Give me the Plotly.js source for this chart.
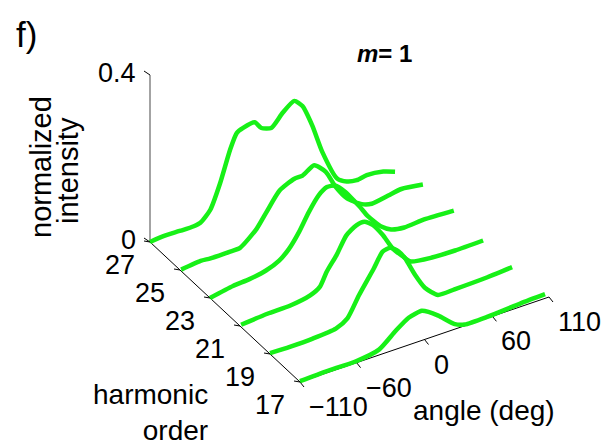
<!DOCTYPE html>
<html><head><meta charset="utf-8">
<script src="https://cdn.plot.ly/plotly-3.0.1.min.js"></script>
<style>html,body{margin:0;padding:0;background:#fff}#chart{width:609px;height:442px}</style>
</head><body><div id="chart"></div>
<script>
// harmonic orders (back to front)
const harmonics = [27, 25, 23, 21, 19, 17];

// angle (deg) samples and normalized intensity per harmonic
const angle27 = [-110, -97.5, -83, -71.3, -65.5, -56.7, -48, -39.3, -33.4, -27.7, -17.5, -11.6, -2.9, 7.2, 17.5, 24.7, 33.4, 42.2, 55.3, 63.8, 72.6, 81.5, 96.1, 106.5];
const int27   = [0, 0.003, 0.002, 0.002, 0.005, 0.028, 0.084, 0.155, 0.19, 0.197, 0.201, 0.182, 0.174, 0.201, 0.22, 0.201, 0.146, 0.075, -0.001, -0.016, -0.021, -0.017, -0.022, -0.032];

const angle25 = [-109, -91.8, -83.1, -65.7, -56.9, -42.3, -33.6, -22, -8.9, -1.7, 8.6, 18.8, 27.5, 37.6, 50.7, 59.4, 74, 85.6, 104.6];
const int25   = [0, 0.005, 0.003, 0.003, 0.004, 0.036, 0.068, 0.109, 0.125, 0.126, 0.141, 0.116, 0.072, 0.035, 0.009, 0.002, 0.008, 0.013, 0.006];

const angle23 = [-110, -89.7, -75.1, -60.5, -48.9, -40.2, -31.4, -22.7, -14, -6.7, 0.6, 9.3, 18.1, 22.4, 29.7, 41.3, 50, 61.7, 79.2, 105.4];
const int23   = [0, 0.010, 0.013, 0.020, 0.033, 0.053, 0.085, 0.125, 0.157, 0.170, 0.167, 0.144, 0.112, 0.096, 0.066, 0.031, 0.016, 0.010, 0.013, 0.010];

const angle21 = [-109, -85.8, -65.5, -48, -39.3, -33.4, -24.7, -16, -7.2, 0, 7.2, 16, 24.7, 33.4, 40.8, 59.6, 80, 104.8];
const int21   = [0.002, 0.007, 0.008, 0.016, 0.029, 0.059, 0.091, 0.130, 0.146, 0.148, 0.134, 0.102, 0.062, 0.035, 0.015, 0.007, 0.005, 0.006];

const angle19 = [-110, -92.5, -72.2, -51.8, -41.6, -31.4, -18.3, -10.5, -3.8, 3.5, 9.3, 18.1, 26.8, 38.4, 53, 82.1, 103.9];
const int19   = [0.002, 0.001, 0.002, 0.007, 0.022, 0.068, 0.120, 0.153, 0.156, 0.141, 0.119, 0.071, 0.032, 0.004, 0.004, 0.006, 0.010];

const angle17 = [-110, -86.7, -60.5, -40.2, -25.6, -14, -2.4, 3.5, 12.2, 26.8, 35.5, 55.9, 85, 106.5];
const int17   = [0.002, 0.004, 0.004, 0.013, 0.044, 0.065, 0.071, 0.063, 0.046, 0.012, 0.003, 0.003, 0.008, 0.010];

// axis ranges and tick labels
const angleRange = [-110, 110];
const harmonicRange = [17, 27];
const intensityRange = [0, 0.4];
const angleTicks = [-110, -60, 0, 60, 110];
const angleTickText = ['\u2212110', '\u221260', '0', '60', '110'];
const harmonicTicks = [27, 25, 23, 21, 19, 17];
const intensityTicks = [0, 0.4];
const intensityTickText = ['0', '0.4'];

const angles = [angle27, angle25, angle23, angle21, angle19, angle17];
const ints = [int27, int25, int23, int21, int19, int17];

// ---- orthographic 3-D view (MATLAB-like), projected onto a 2-D Plotly plot in pixel units ----
const view = {
  origin: [150, 242],        // screen point of (angle min, harmonic max, intensity min)
  angleDir: [249, -85],      // screen vector spanning the full angle range
  harmonicDir: [150, 140],   // screen vector from harmonic max to harmonic min
  intensityDir: [0, -167]    // screen vector spanning the full intensity range
};
function project(a, h, z) {
  const ta = (a - angleRange[0]) / (angleRange[1] - angleRange[0]);
  const th = (harmonicRange[1] - h) / (harmonicRange[1] - harmonicRange[0]);
  const tz = (z - intensityRange[0]) / (intensityRange[1] - intensityRange[0]);
  return [
    view.origin[0] + ta * view.angleDir[0] + th * view.harmonicDir[0] + tz * view.intensityDir[0],
    view.origin[1] + ta * view.angleDir[1] + th * view.harmonicDir[1] + tz * view.intensityDir[1]
  ];
}
function projLine(pts) {
  const p = pts.map(q => project(q[0], q[1], q[2]));
  return {x: p.map(v => v[0]), y: p.map(v => v[1])};
}

const FONT = 'Liberation Sans, Arial, Helvetica, sans-serif';
const TICKSIZE = 27;
const traces = [];

// axis lines
const aMin = angleRange[0], aMax = angleRange[1], hMin = harmonicRange[0], hMax = harmonicRange[1];
const zMin = intensityRange[0], zMax = intensityRange[1];
const zLine = projLine([[aMin, hMax, zMin], [aMin, hMax, zMax]]);
traces.push({type: 'scatter', mode: 'lines', x: zLine.x, y: zLine.y, line: {color: '#666', width: 1.2}, hoverinfo: 'skip'});
const baseLines = projLine([[aMin, hMax, zMin], [aMin, hMin, zMin], [aMax, hMin, zMin]]);
traces.push({type: 'scatter', mode: 'lines', x: baseLines.x, y: baseLines.y, line: {color: '#000', width: 1}, hoverinfo: 'skip'});

// tick marks (short screen-space segments)
function tickMarks(points, d) {
  const xs = [], ys = [];
  points.forEach(p => { const s = project(p[0], p[1], p[2]); xs.push(s[0], s[0] + d[0], null); ys.push(s[1], s[1] + d[1], null); });
  return {type: 'scatter', mode: 'lines', x: xs, y: ys, line: {color: '#000', width: 1}, hoverinfo: 'skip'};
}
traces.push(tickMarks(intensityTicks.map(z => [aMin, hMax, z]), [-6, -4]));
traces.push(tickMarks(harmonicTicks.map(h => [aMin, h, zMin]), [-6, -1]));
traces.push(tickMarks(angleTicks.map(a => [a, hMin, zMin]), [4, 5]));

// data curves
harmonics.forEach((h, i) => {
  const c = projLine(angles[i].map((a, j) => [a, h, ints[i][j]]));
  traces.push({type: 'scatter', mode: 'lines', x: c.x, y: c.y, name: 'H' + h,
    line: {color: '#17f017', width: 4.5, shape: 'spline', smoothing: 0.6}, hoverinfo: 'skip'});
});

// tick labels as annotations in projected coordinates
const ann = [];
intensityTicks.forEach((z, i) => {
  const s = project(aMin, hMax, z);
  ann.push({x: s[0], y: s[1], xref: 'x', yref: 'y', text: intensityTickText[i], showarrow: false,
    xanchor: 'right', yanchor: 'middle', xshift: -12, yshift: 2, font: {family: FONT, size: TICKSIZE}});
});
harmonicTicks.forEach(h => {
  const s = project(aMin, h, zMin);
  ann.push({x: s[0], y: s[1], xref: 'x', yref: 'y', text: String(h), showarrow: false,
    xanchor: 'center', yanchor: 'middle', xshift: -30, yshift: -23, font: {family: FONT, size: TICKSIZE}});
});
angleTicks.forEach((a, i) => {
  const s = project(a, hMin, zMin);
  ann.push({x: s[0], y: s[1], xref: 'x', yref: 'y', text: angleTickText[i], showarrow: false,
    xanchor: 'left', yanchor: 'middle', xshift: 7, yshift: -25, font: {family: FONT, size: TICKSIZE}});
});

// titles and labels (page pixel positions)
const labels = [
  {text: 'f)', x: 14, y: 34, xanchor: 'left', size: 35},
  {text: '<b><i>m</i>= 1</b>', x: 384, y: 53, size: 24},
  {text: 'normalized', x: 41, y: 167, textangle: -90, size: 29},
  {text: 'intensity', x: 68, y: 171, textangle: -90, size: 29},
  {text: 'harmonic<br>order', x: 210, y: 412, xanchor: 'right', align: 'right', size: 28},
  {text: 'angle (deg)', x: 484, y: 410, size: 28}
];
labels.forEach(l => ann.push({
  x: l.x, y: l.y, xref: 'x', yref: 'y', text: l.text, showarrow: false,
  xanchor: l.xanchor || 'center', yanchor: 'middle', align: l.align || 'center',
  textangle: l.textangle || 0, font: {family: FONT, size: l.size, color: '#000'}
}));

const layout = {
  width: 609, height: 442,
  margin: {l: 0, r: 0, t: 0, b: 0},
  paper_bgcolor: '#fff', plot_bgcolor: '#fff',
  showlegend: false,
  font: {family: FONT, color: '#000'},
  xaxis: {range: [0, 609], visible: false, fixedrange: true},
  yaxis: {range: [442, 0], visible: false, fixedrange: true},
  annotations: ann
};

Plotly.newPlot('chart', traces, layout, {displayModeBar: false, staticPlot: true});
</script>
</body></html>
